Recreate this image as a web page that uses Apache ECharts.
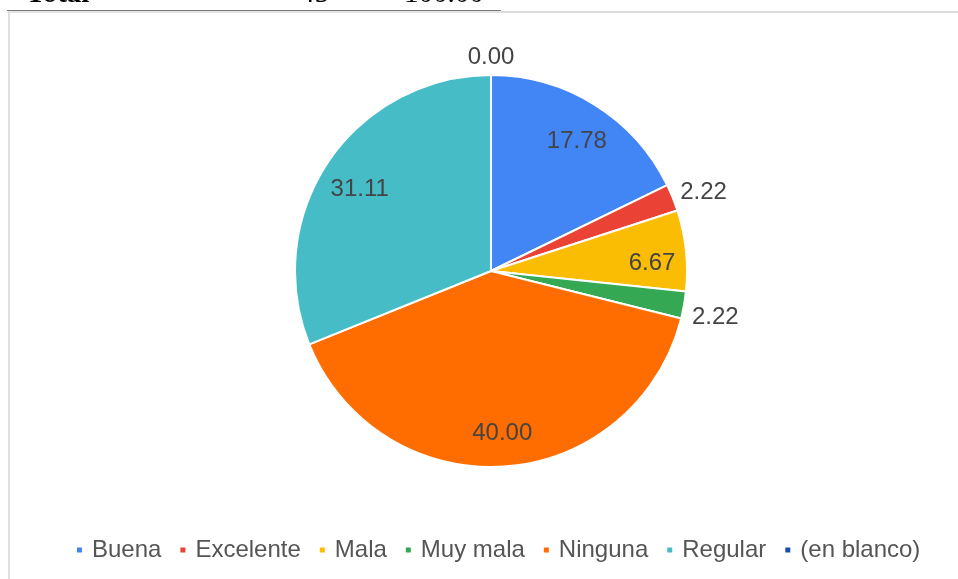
<!DOCTYPE html>
<html>
<head>
<meta charset="utf-8">
<script src="https://cdn.jsdelivr.net/npm/echarts@6/dist/echarts.min.js"></script>
<style>
  html, body { margin: 0; padding: 0; background: #fff; }
  #wrap { position: relative; width: 958px; height: 579px; overflow: hidden; background: #fff; }
  #chart { position: absolute; left: 0; top: 0; width: 958px; height: 579px; }
  .hdr { position: absolute; top: -22px; font-family: "Liberation Serif", "DejaVu Serif", serif; font-size: 29px; line-height: 29px; color: #000; white-space: nowrap; }
  #tline { position: absolute; left: 7px; top: 10px; width: 494px; height: 1px; background: #7a7a7a; }
  #ftop { position: absolute; left: 501px; top: 11px; width: 457px; height: 2px; background: #dcdcdc; }
  #ftop2 { position: absolute; left: 8px; top: 11px; width: 493px; height: 2px; background: #e4e4e4; }
  #fleft { position: absolute; left: 8px; top: 12px; width: 2px; height: 567px; background: #e0e0e0; }
</style>
</head>
<body>
<div id="wrap">
  <div id="chart"></div>
  <div class="hdr" style="left:26px;font-weight:bold;">Total</div>
  <div class="hdr" style="left:300px;">45</div>
  <div class="hdr" style="left:404px;">100.00</div>
  <div id="tline"></div>
  <div id="ftop2"></div>
  <div id="ftop"></div>
  <div id="fleft"></div>
</div>
<script>
// Data
var categories = ['Buena', 'Excelente', 'Mala', 'Muy mala', 'Ninguna', 'Regular', '(en blanco)'];
var values = [17.78, 2.22, 6.67, 2.22, 40.00, 31.11, 0.00];
var colors = ['#4285F4', '#EA4335', '#FBBC04', '#34A853', '#FF6D01', '#46BDC6', '#1A4EAD'];
var insideLabel = [true, false, true, false, true, true, false];

// Label offset tweaks (style only)
var outsideAdjust = { 1: { dy: -2 }, 3: { dy: 11 }, 6: { dy: -10, align: 'center' } };
var insideAdjust = { 0: { dy: 8 }, 2: { dy: 9 }, 4: { dy: 1 }, 5: { dy: 9, dx: 3 } };

var labelFont = { fontFamily: 'Liberation Sans, Arial, sans-serif', fontSize: 24, color: '#444' };

var baseData = categories.map(function (c, i) {
  return {
    name: c,
    value: values[i],
    itemStyle: { color: colors[i] },
    label: { show: !insideLabel[i] }
  };
});
var overlayData = categories.map(function (c, i) {
  return {
    name: c,
    value: values[i],
    label: { show: insideLabel[i] }
  };
});

var chart = echarts.init(document.getElementById('chart'), null, { renderer: 'canvas' });
chart.setOption({
  animation: false,
  backgroundColor: 'transparent',
  legend: {
    data: categories,
    bottom: 12,
    left: 70,
    icon: 'rect',
    itemWidth: 7,
    itemHeight: 7,
    itemGap: 17,
    selectedMode: false,
    textStyle: { fontFamily: 'Liberation Sans, Arial, sans-serif', fontSize: 24, color: '#555', padding: [0, 0, 0, 4] }
  },
  series: [
    {
      type: 'pie',
      name: 'main',
      center: [491, 271],
      radius: [0, 196],
      startAngle: 90,
      clockwise: true,
      avoidLabelOverlap: false,
      silent: true,
      itemStyle: { borderColor: '#fff', borderWidth: 2 },
      label: Object.assign({ position: 'outside', distanceToLabelLine: 0, formatter: function (p) { return p.value.toFixed(2); } }, labelFont),
      labelLine: { show: false, length: 8, length2: 0 },
      labelLayout: function (p) {
        var a = outsideAdjust[p.dataIndex];
        return a ? a : {};
      },
      emphasis: { disabled: true },
      data: baseData
    },
    {
      type: 'pie',
      name: 'labels',
      center: [491, 271],
      radius: [122, 196],
      startAngle: 90,
      clockwise: true,
      silent: true,
      avoidLabelOverlap: false,
      itemStyle: { color: 'rgba(0,0,0,0)', borderWidth: 0 },
      label: Object.assign({ position: 'inside', formatter: function (p) { return p.value.toFixed(2); } }, labelFont),
      labelLine: { show: false },
      labelLayout: function (p) {
        var a = insideAdjust[p.dataIndex];
        return a ? a : {};
      },
      emphasis: { disabled: true },
      data: overlayData
    }
  ]
});
</script>
</body>
</html>
